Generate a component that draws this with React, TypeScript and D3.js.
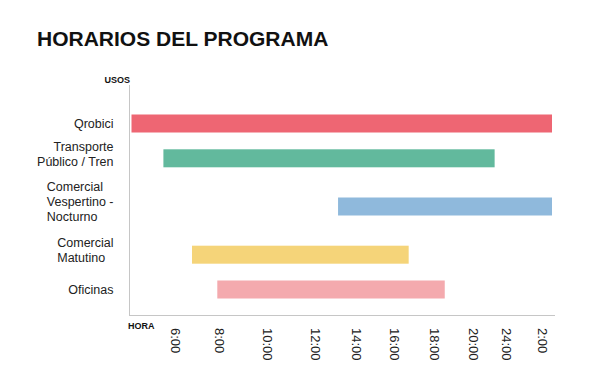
import React from "react";
import * as d3 from "d3";

// ---- Data ----
const CATEGORIES: string[][] = [
  ["Qrobici"],
  ["Transporte", "Público / Tren"],
  ["Comercial", "Vespertino -", "Nocturno"],
  ["Comercial", "Matutino"],
  ["Oficinas"],
];
// hours (values past 24 mean the next day: 26 = 2:00)
const START_HOURS = [4, 5.45, 13.1, 6.75, 7.9];
const END_HOURS = [26.5, 22.5, 26.5, 16.7, 18.5];
const BAR_COLORS = ["#ee6673", "#62b99d", "#8fb9dc", "#f5d479", "#f4aaae"];
const TICK_HOURS = [6, 8, 10, 12, 14, 16, 18, 20, 24, 26];
const TICK_LABELS = ["6:00", "8:00", "10:00", "12:00", "14:00", "16:00", "18:00", "20:00", "24:00", "2:00"];

// ---- Layout ----
const W = 602;
const H = 391;
const TICK_X = [175.5, 219.5, 268, 315.5, 356.5, 394.5, 435, 474, 507, 543];
const AXIS_X = 129.5;
const AXIS_Y = 315.5;
const AXIS_TOP = 85;
const AXIS_RIGHT = 555;
const ROWS_TOP = 109.45;
const ROW_BASE = 14.7;
const ROW_PER_LINE = 13.4;
const BAR_H = 18;
const LABEL_LINE_H = 15;
const LABEL_RIGHT = 113.5;
const LABEL_SIZE = 12.5;
const LABEL_ALIGN = ["end", "end", "start", "start", "end"];
const MULTI_LINE_SHIFT = -4.5;
const FONT = "'Liberation Sans', Arial, Helvetica, sans-serif";

function measure(text: string, size: number): number {
  const ctx = document.createElement("canvas").getContext("2d");
  if (!ctx) return text.length * size * 0.55;
  ctx.font = `${size}px 'Liberation Sans', Arial, sans-serif`;
  return ctx.measureText(text).width;
}

export default function App() {
  const x = d3.scaleLinear().domain(TICK_HOURS).range(TICK_X);

  // row centres stacked by the number of label lines
  const heights = CATEGORIES.map((c) => ROW_BASE + c.length * ROW_PER_LINE);
  const centers: number[] = [];
  let acc = ROWS_TOP;
  heights.forEach((h) => {
    centers.push(acc + h / 2);
    acc += h;
  });

  return (
    <svg
      width={W}
      height={H}
      style={{ position: "absolute", left: 0, top: 0, background: "#fff" }}
      fontFamily={FONT}
    >
      <text x={37} y={46} fontSize={21} fontWeight="bold" fill="#111">
        HORARIOS DEL PROGRAMA
      </text>

      <text x={130} y={83} fontSize={9} fontWeight="bold" textAnchor="end" fill="#111">
        USOS
      </text>
      <text x={128} y={329} fontSize={9} fontWeight="bold" fill="#111">
        HORA
      </text>

      {/* axes */}
      <line x1={AXIS_X} x2={AXIS_X} y1={AXIS_TOP} y2={AXIS_Y + 0.5} stroke="#c6c6c6" strokeWidth={1} />
      <line x1={AXIS_X} x2={AXIS_RIGHT} y1={AXIS_Y} y2={AXIS_Y} stroke="#c6c6c6" strokeWidth={1} />

      {/* bars */}
      {CATEGORIES.map((_, i) => (
        <rect
          key={"b" + i}
          x={x(START_HOURS[i])}
          width={x(END_HOURS[i]) - x(START_HOURS[i])}
          y={centers[i] - BAR_H / 2}
          height={BAR_H}
          fill={BAR_COLORS[i]}
        />
      ))}

      {/* category labels */}
      {CATEGORIES.map((lines, i) => {
        const align = LABEL_ALIGN[i];
        const maxW = Math.max(...lines.map((l) => measure(l, LABEL_SIZE)));
        const lx = align === "start" ? LABEL_RIGHT - maxW : LABEL_RIGHT;
        const cy = centers[i] + (lines.length > 1 ? MULTI_LINE_SHIFT : 0);
        return (
          <text key={"l" + i} fontSize={LABEL_SIZE} fill="#222" textAnchor={align}>
            {lines.map((ln, j) => (
              <tspan
                key={j}
                x={lx}
                y={cy + (j - (lines.length - 1) / 2) * LABEL_LINE_H}
                dy="0.35em"
              >
                {ln}
              </tspan>
            ))}
          </text>
        );
      })}

      {/* tick labels */}
      {TICK_HOURS.map((h, i) => (
        <text
          key={"t" + i}
          transform={`translate(${x(h)},328) rotate(90)`}
          fontSize={13}
          dy="0.35em"
          fill="#222"
        >
          {TICK_LABELS[i]}
        </text>
      ))}
    </svg>
  );
}
